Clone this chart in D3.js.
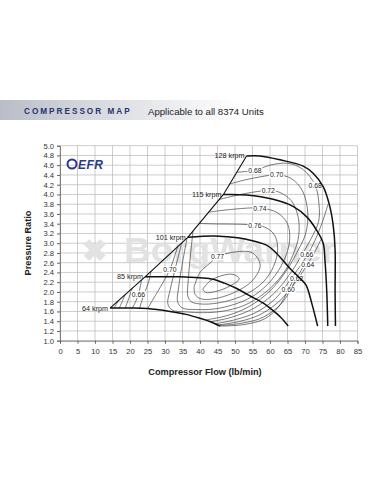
<!DOCTYPE html>
<html><head><meta charset="utf-8">
<script src="https://cdn.jsdelivr.net/npm/d3@7"></script>
<style>
html,body{margin:0;padding:0;background:#fff;}
svg{display:block;font-family:"Liberation Sans",Arial,sans-serif;}
</style></head>
<body>
<svg id="chart" width="381" height="492"></svg>
<script>
// ---------- data ----------
const flowTicks = [0,5,10,15,20,25,30,35,40,45,50,55,60,65,70,75,80,85];
const prTicks = [1.0,1.2,1.4,1.6,1.8,2.0,2.2,2.4,2.6,2.8,3.0,3.2,3.4,3.6,3.8,4.0,4.2,4.4,4.6,4.8,5.0];

const surgeLine = [[14.3,1.67],[24.3,2.31],[36.5,3.12],[46.7,4.00],[53.3,4.79]];
const speedNames = ["64 krpm","85 krpm","101 krpm","115 krpm","128 krpm"];
const speed64  = [[14.3,1.67],[20,1.67],[25,1.66],[31.4,1.60],[36,1.54],[40,1.46],[43,1.39],[45.7,1.30]];
const speed85  = [[24.3,2.31],[30,2.31],[34.3,2.31],[40,2.29],[43.8,2.26],[47,2.18],[50.5,2.07],[54,1.93],[58.1,1.77],[60.5,1.64],[62.9,1.49],[65.2,1.30]];
const speed101 = [[36.5,3.12],[43.8,3.15],[48,3.13],[53.3,3.08],[59,2.96],[61.9,2.79],[65.7,2.48],[68.6,2.28],[70.3,2.14],[72,1.75],[73.6,1.30]];
const speed115 = [[46.7,4.00],[53.3,3.99],[60.9,3.90],[66.7,3.75],[70.5,3.54],[73.3,3.27],[75.2,3.00],[75.7,2.65],[76.2,2.04],[76.5,1.30]];
const speed128 = [[53.3,4.79],[57.1,4.79],[62.9,4.71],[69.5,4.58],[72.4,4.43],[75.2,4.16],[77.1,3.75],[78.1,3.34],[78.6,2.86],[78.6,2.0],[78.7,1.30]];

// efficiency contours (flow, pressure ratio) - each level may have several pieces
const eff78 = [[40.8,2.06],[42.8,2.22],[46,2.33],[49.5,2.36],[51.2,2.27],[48.5,2.12],[44.5,2.01],[41.6,1.99],[40.8,2.06]];
const eff77 = [[38.3,2.1],[40,2.4],[43,2.6],[45,2.72],[50,2.82],[55,2.8],[57.2,2.55],[54.8,2.22],[49.5,1.98],[44,1.86],[40.2,1.86],[38.6,1.95],[38.3,2.1]];
const eff76 = [[38,3.25],[37.2,2.7],[36.6,2.2],[36.5,1.92],[37.5,1.8],[41,1.75],[47,1.8],[53,1.95],[58,2.2],[61,2.52],[62.2,2.88],[61.2,3.18],[58.5,3.33],[55.7,3.37],[51,3.39],[45,3.395],[39.8,3.405]];
const eff74 = [[36.3,3.107],[35,2.6],[33.9,2.1],[33.6,1.8],[35,1.67],[39,1.64],[44,1.65],[50,1.75],[55.5,1.93],[60.5,2.25],[64,2.65],[65.6,3.05],[65,3.4],[62,3.63],[57.1,3.72],[50,3.7],[42.5,3.638]];
const eff72 = [[34.8,3.007],[33,2.5],[31.5,2.05],[30.8,1.76],[32,1.63],[36,1.59],[41,1.575],[46,1.6],[52.5,1.72],[58.5,1.98],[63.5,2.35],[66.5,2.75],[68.2,3.15],[68,3.55],[66,3.88],[62.5,4.05],[59.5,4.08],[53,4.02],[45.5,3.897]];
const eff70a = [[25,1.655],[27.6,1.97],[29.8,2.24],[31.4,2.46],[32.6,2.7],[33.6,2.927]];
const eff70b = [[48.5,4.215],[53,4.3],[57.1,4.36],[61.9,4.40],[66,4.33],[69.3,4.07],[70.8,3.62],[70.2,3.2],[68,2.85],[64.8,2.45],[60,2.02],[54,1.7],[48,1.52],[41.5,1.425]];
const eff68a = [[22.7,1.66],[24.1,1.97],[25.3,2.2],[26,2.423]];
const eff68b = [[50.5,4.455],[53,4.47],[55.7,4.49],[60,4.6],[65,4.64],[69.3,4.52],[72.9,4.19],[74,3.8],[73.9,3.45],[71.8,3.1],[69,2.75],[66.2,2.42],[61.3,1.98],[55.5,1.67],[49,1.48],[43,1.39]];
const eff66a = [[20.6,1.66],[21.6,1.8],[22.4,1.95],[23.3,2.246]];
const eff66b = [[44.3,1.347],[50,1.43],[56,1.58],[61.5,1.86],[66.3,2.3],[70.5,2.74],[72.8,3.05],[74.8,3.4],[76.6,3.8]];
const eff64a = [[18.6,1.66],[19.6,1.86],[20.6,2.07]];
const eff64b = [[45,1.323],[51,1.39],[57,1.53],[62.5,1.8],[67.3,2.2],[70.8,2.58],[73,2.85],[74.6,3.08]];
const eff62a = [[16.9,1.66],[17.8,1.81],[18.6,1.945]];
const eff62b = [[45.4,1.31],[52,1.36],[58,1.48],[63.5,1.78],[67.6,2.28],[69.5,2.52]];
const eff60a = [[15.4,1.66],[16.1,1.75],[16.8,1.83]];
const eff60b = [[45.7,1.30],[52.5,1.33],[58.5,1.45],[62.5,1.7],[65.2,2.04],[66.3,2.2]];

const effLabels = [
  ["0.68",55.7,4.49],["0.70",61.9,4.40],["0.72",59.5,4.08],["0.74",57.1,3.72],["0.76",55.7,3.37],
  ["0.77",45,2.72],["0.68",72.9,4.19],["0.70",31.4,2.46],["0.66",22.4,1.95],
  ["0.66",70.5,2.77],["0.64",70.8,2.56],["0.62",67.6,2.28],["0.60",65.2,2.04]
];

// ---------- drawing ----------
const svg = d3.select("#chart");
const x = d3.scaleLinear().domain([0,85]).range([60,357.5]);
const y = d3.scaleLinear().domain([1,5]).range([340.7,145.7]);

// header band
const defs = svg.append("defs");
const grad = defs.append("linearGradient").attr("id","hdr").attr("x1","0").attr("x2","1");
grad.append("stop").attr("offset","0").attr("stop-color","#b9bdc7");
grad.append("stop").attr("offset","0.35").attr("stop-color","#d3d6dc");
grad.append("stop").attr("offset","1").attr("stop-color","#ffffff");
svg.append("rect").attr("x",0).attr("y",100).attr("width",240).attr("height",20).attr("fill","url(#hdr)");
svg.append("text").attr("x",24).attr("y",114).attr("font-size",8.2).attr("font-weight","bold")
  .attr("letter-spacing",2).attr("fill","#27336e").text("COMPRESSOR MAP");
svg.append("text").attr("x",148).attr("y",114.5).attr("font-size",9.6).attr("fill","#222")
  .text("Applicable to all 8374 Units");

// plot background & grid
svg.append("rect").attr("x",x(0)).attr("y",y(5)).attr("width",x(85)-x(0)).attr("height",y(1)-y(5)).attr("fill","#fff");
const g = svg.append("g");
g.selectAll(".vg").data(flowTicks).join("line")
  .attr("x1",d=>x(d)).attr("x2",d=>x(d)).attr("y1",y(1)).attr("y2",y(5))
  .attr("stroke","#b8b8b8").attr("stroke-width",0.7);
g.selectAll(".hg").data(prTicks).join("line")
  .attr("x1",x(0)).attr("x2",x(85)).attr("y1",d=>y(d)).attr("y2",d=>y(d))
  .attr("stroke","#b8b8b8").attr("stroke-width",0.7);

// axes
const xAxis = d3.axisBottom(x).tickValues(flowTicks).tickSize(3).tickFormat(d3.format("d"));
const yAxis = d3.axisLeft(y).tickValues(prTicks).tickSize(3).tickFormat(d3.format(".1f"));
const gx = svg.append("g").attr("transform",`translate(0,${y(1)})`).call(xAxis);
const gy = svg.append("g").attr("transform",`translate(${x(0)},0)`).call(yAxis);
[gx,gy].forEach(a=>{
  a.select(".domain").attr("stroke","#666").attr("stroke-width",0.8);
  a.selectAll(".tick line").attr("stroke","#666");
  a.selectAll("text").attr("font-size",7.6).attr("fill","#333").attr("font-family","'Liberation Sans',Arial,sans-serif");
});
gx.selectAll("text").attr("dy","0.95em");

svg.append("text").attr("transform",`translate(31,243) rotate(-90)`).attr("text-anchor","middle")
  .attr("font-size",9.2).attr("font-weight","bold").attr("fill","#222").text("Pressure Ratio");
svg.append("text").attr("x",205).attr("y",375).attr("text-anchor","middle")
  .attr("font-size",9.2).attr("font-weight","bold").attr("fill","#222").text("Compressor Flow (lb/min)");

// watermark (behind the map lines)
const wm = svg.append("g").attr("fill","#e2e2e2");
wm.append("text").attr("x",82).attr("y",261).attr("font-size",30).attr("font-weight","bold").text("\u2716");
wm.append("text").attr("x",124).attr("y",262).attr("font-size",35).attr("font-weight","bold")
  .attr("textLength",212).attr("lengthAdjust","spacingAndGlyphs").text("BorgWarner");

// EFR logo
svg.append("circle").attr("cx",72).attr("cy",164).attr("r",4.5).attr("fill","none").attr("stroke","#2a3a8c").attr("stroke-width",2);
svg.append("text").attr("x",78).attr("y",168.5).attr("font-size",12).attr("font-weight","bold").attr("font-style","italic")
  .attr("fill","#2a3a8c").attr("letter-spacing",0.5).text("EFR");

// lines
const line = d3.line().x(d=>x(d[0])).y(d=>y(d[1])).curve(d3.curveCatmullRom.alpha(0.5));
const straight = d3.line().x(d=>x(d[0])).y(d=>y(d[1]));
const contours = [eff78,eff77,eff76,eff74,eff72,eff70a,eff70b,eff68a,eff68b,eff66a,eff66b,eff64a,eff64b,eff62a,eff62b,eff60a,eff60b];
svg.append("g").selectAll("path").data(contours).join("path")
  .attr("d",line).attr("fill","none").attr("stroke","#333").attr("stroke-width",0.65);

// labels with white backdrop
const lg = svg.append("g");
effLabels.forEach(([t,fx,py])=>{
  lg.append("rect").attr("x",x(fx)-7.5).attr("y",y(py)-3.5).attr("width",15).attr("height",7).attr("fill","#fff");
  lg.append("text").attr("x",x(fx)).attr("y",y(py)+2.4).attr("text-anchor","middle")
    .attr("font-size",6.8).attr("fill","#222").text(t);
});

svg.append("path").attr("d",straight(surgeLine)).attr("fill","none").attr("stroke","#111").attr("stroke-width",1.1);
const speeds = [speed64,speed85,speed101,speed115,speed128];
svg.append("g").selectAll("path").data(speeds).join("path")
  .attr("d",line).attr("fill","none").attr("stroke","#111").attr("stroke-width",1.5);

// speed labels
speeds.forEach((s,i)=>{
  svg.append("text").attr("x",x(s[0][0])-2).attr("y",y(s[0][1])+2.5).attr("text-anchor","end")
    .attr("font-size",7.2).attr("fill","#222").text(speedNames[i]);
});
</script>
</body></html>
